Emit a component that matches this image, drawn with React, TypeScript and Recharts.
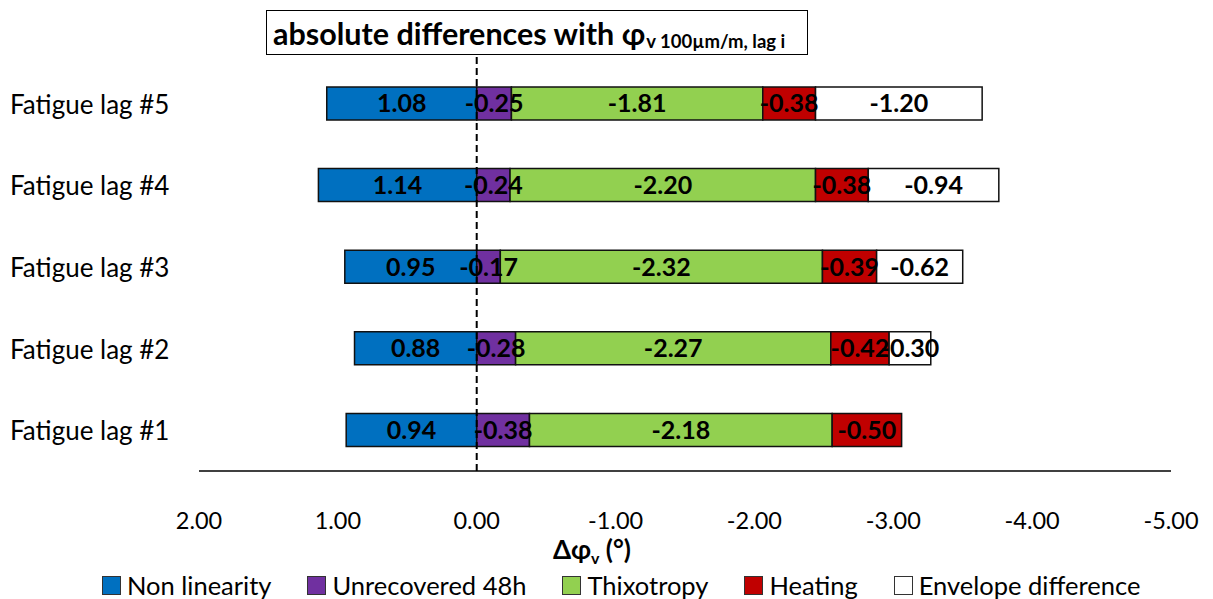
import React from 'react';
import { BarChart, Bar, XAxis, YAxis, ReferenceLine, LabelList } from 'recharts';

// categories, top to bottom
const lags = ['Fatigue lag #5', 'Fatigue lag #4', 'Fatigue lag #3', 'Fatigue lag #2', 'Fatigue lag #1'];

// contributions (°)
const nonLinearity = [1.08, 1.14, 0.95, 0.88, 0.94];
const unrecovered48h = [-0.25, -0.24, -0.17, -0.28, -0.38];
const thixotropy = [-1.81, -2.2, -2.32, -2.27, -2.18];
const heating = [-0.38, -0.38, -0.39, -0.42, -0.5];
const envelopeDiff: (number | null)[] = [-1.2, -0.94, -0.62, -0.3, null];

const xTicks = [2, 1, 0, -1, -2, -3, -4, -5];

const seriesDefs = [
  { key: 'nonLinearity', name: 'Non linearity', color: '#0070C0' },
  { key: 'unrecovered', name: 'Unrecovered 48h', color: '#7030A0' },
  { key: 'thixotropy', name: 'Thixotropy', color: '#92D050' },
  { key: 'heating', name: 'Heating', color: '#C00000' },
  { key: 'envelope', name: 'Envelope difference', color: '#FFFFFF' },
];

const data = lags.map((lag, i) => ({
  lag,
  nonLinearity: nonLinearity[i],
  unrecovered: unrecovered48h[i],
  thixotropy: thixotropy[i],
  heating: heating[i],
  envelope: envelopeDiff[i],
}));

const FONT = 'Lato, "Open Sans", sans-serif';

const fmt = (v: any) => (v === null || v === undefined ? '' : Number(v).toFixed(2));

const LagTick = (props: any) => {
  const { y, payload } = props;
  return (
    <text x={10} y={y} dominantBaseline="central" fontSize={26} fontFamily={FONT} fill="#000">
      {payload.value}
    </text>
  );
};

export default function App() {
  return (
    <div style={{ position: 'absolute', left: 0, top: 0, width: 1213, height: 599, background: '#fff', fontFamily: FONT }}>
      <BarChart
        width={1213}
        height={599}
        data={data}
        layout="vertical"
        stackOffset="sign"
        barSize={33}
        margin={{ top: 55, right: 42, bottom: 68, left: 0 }}
      >
        <XAxis
          type="number"
          domain={[-5, 2]}
          ticks={xTicks}
          reversed
          allowDataOverflow
          tickFormatter={(v) => Number(v).toFixed(2)}
          tickLine={false}
          tickSize={0}
          tickMargin={41}
          axisLine={{ stroke: '#000', strokeWidth: 1.5 }}
          tick={{ fill: '#000', fontSize: 23.5, fontFamily: FONT }}
          height={60}
        />
        <YAxis
          type="category"
          dataKey="lag"
          width={199}
          axisLine={false}
          tickLine={false}
          tick={<LagTick />}
          padding={{ top: 8, bottom: 0 }}
        />
        {seriesDefs.map((s) => (
          <Bar
            key={s.key}
            dataKey={s.key}
            name={s.name}
            stackId="a"
            fill={s.color}
            stroke="#111"
            strokeWidth={1.5}
            isAnimationActive={false}
          >
            <LabelList
              dataKey={s.key}
              position="center"
              formatter={fmt}
              fill="#000"
              fontSize={25}
              fontWeight="bold"
              fontFamily={FONT}
            />
          </Bar>
        ))}
        <ReferenceLine x={0} stroke="#000" strokeWidth={2} strokeDasharray="7 4" />
      </BarChart>

      {/* title box */}
      <div
        style={{
          position: 'absolute',
          left: 266,
          top: 10,
          width: 542,
          height: 45,
          border: '1.5px solid #000',
          background: '#fff',
          boxSizing: 'border-box',
          display: 'flex',
          alignItems: 'center',
          paddingLeft: 6,
          fontWeight: 'bold',
          fontSize: 30.5,
          whiteSpace: 'nowrap',
          color: '#000',
        }}
      >
        absolute differences with φ
        <span style={{ fontSize: 18.5, position: 'relative', top: 8, marginLeft: 1 }}>v 100µm/m, lag i</span>
      </div>

      {/* axis title */}
      <div
        style={{
          position: 'absolute',
          left: 592,
          top: 551,
          transform: 'translate(-50%, -50%)',
          fontWeight: 'bold',
          fontSize: 26,
          lineHeight: '30px',
          whiteSpace: 'nowrap',
          color: '#000',
        }}
      >
        Δφ<span style={{ fontSize: 16, position: 'relative', top: 5 }}>v</span> (°)
      </div>

      {/* legend */}
      <div
        style={{
          position: 'absolute',
          left: 102,
          top: 585,
          transform: 'translateY(-50%)',
          display: 'flex',
          alignItems: 'center',
          fontSize: 25.5,
          lineHeight: '28px',
          color: '#000',
          whiteSpace: 'nowrap',
        }}
      >
        {seriesDefs.map((s) => (
          <div key={s.key} style={{ display: 'flex', alignItems: 'center', marginRight: 36 }}>
            <span
              style={{
                display: 'inline-block',
                width: 19,
                height: 19,
                background: s.color,
                border: '1.5px solid #333',
                boxSizing: 'border-box',
                marginRight: 6,
              }}
            />
            {s.name}
          </div>
        ))}
      </div>
    </div>
  );
}
